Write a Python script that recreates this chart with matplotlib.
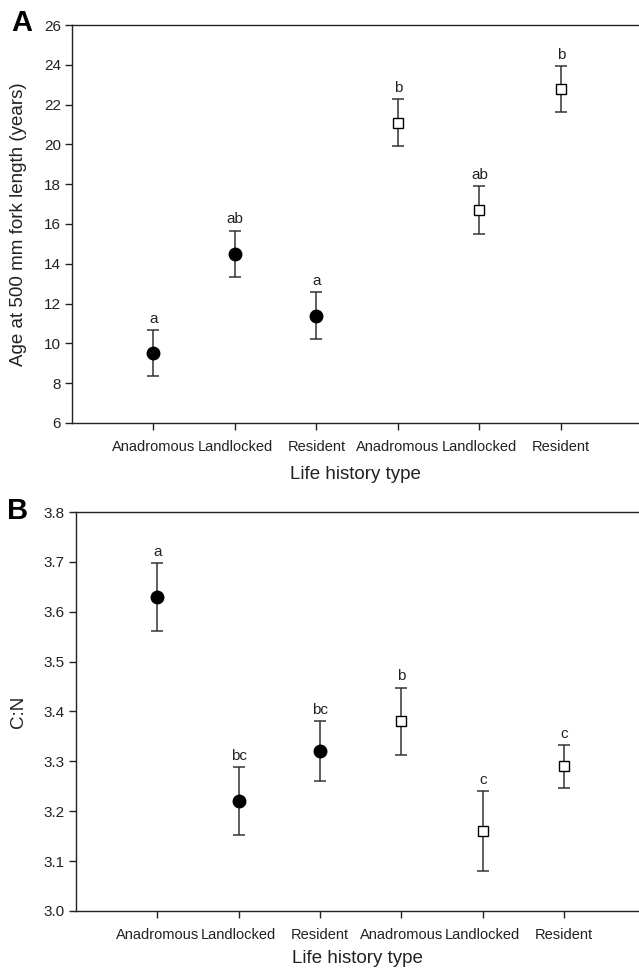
import matplotlib
matplotlib.use("Agg")
import matplotlib.pyplot as plt

plt.rcParams['font.family'] = ['Liberation Sans', 'DejaVu Sans']

types = ["Anadromous", "Landlocked", "Resident", "Anadromous", "Landlocked", "Resident"]
filled = [True, True, True, False, False, False]

age = [9.5, 14.5, 11.4, 21.1, 16.7, 22.8]
age_err = [1.15, 1.17, 1.17, 1.17, 1.2, 1.15]
age_letters = ["a", "ab", "a", "b", "ab", "b"]

cn = [3.63, 3.22, 3.32, 3.38, 3.16, 3.29]
cn_err = [0.068, 0.068, 0.06, 0.068, 0.08, 0.043]
cn_letters = ["a", "bc", "bc", "b", "c", "c"]

fig = plt.figure(figsize=(6.39, 9.69), dpi=100)
axA = fig.add_axes([0.1127, 0.5635, 0.8873, 0.4107])
axB = fig.add_axes([0.119, 0.0599, 0.881, 0.4117])


def panel(ax, vals, errs, letters, ylim, yticks, yfmt, ylabel, xmax, xlab_y, ylab_x):
    x = list(range(1, len(vals) + 1))
    for xi, v, e, f, lab in zip(x, vals, errs, filled, letters):
        ax.errorbar(xi, v, yerr=e, fmt='none', ecolor='#333333', elinewidth=1.1,
                    capsize=4.5, capthick=1.1, zorder=2)
        if f:
            ax.plot(xi, v, 'o', ms=9, mfc='black', mec='black', zorder=3)
        else:
            ax.plot(xi, v, 's', ms=7.8, mfc='white', mec='black', mew=1.0, zorder=3)
        ax.annotate(lab, (xi, v + e), xytext=(0, 3), textcoords='offset points',
                    ha='center', va='bottom', fontsize=11, color='#222222')
    ax.set_xlim(0, xmax)
    ax.set_ylim(*ylim)
    ax.set_yticks(yticks)
    ax.set_yticklabels([yfmt % t for t in yticks])
    ax.set_xticks(x)
    ax.set_xticklabels(types)
    ax.spines['right'].set_visible(False)
    for s in ['left', 'bottom', 'top']:
        ax.spines[s].set_color('#222222')
        ax.spines[s].set_linewidth(1.0)
    ax.tick_params(axis='both', direction='out', length=5, width=1.0,
                   labelsize=11, colors='#222222', pad=3)
    ax.tick_params(axis='x', pad=7, labelsize=10.5)
    ax.set_xlabel("Life history type", fontsize=13.5, color='#222222', va='center')
    ax.set_ylabel(ylabel, fontsize=13.5, color='#222222', va='center')
    ax.xaxis.set_label_coords(0.5, xlab_y)
    ax.yaxis.set_label_coords(ylab_x, 0.5)


panel(axA, age, age_err, age_letters, (6, 26), list(range(6, 27, 2)), "%d",
      "Age at 500 mm fork length (years)", 6.96, -0.13, -0.095)
panel(axB, cn, cn_err, cn_letters, (3.0, 3.8), [3.0, 3.1, 3.2, 3.3, 3.4, 3.5, 3.6, 3.7, 3.8],
      "%.1f", "C:N", 6.92, -0.118, -0.103)

fig.text(22 / 639, 1 - 23 / 969, "A", fontsize=21, fontweight='bold', va='center', ha='center')
fig.text(18 / 639, 1 - 511 / 969, "B", fontsize=21, fontweight='bold', va='center', ha='center')

fig.savefig("out.png", dpi=100)
